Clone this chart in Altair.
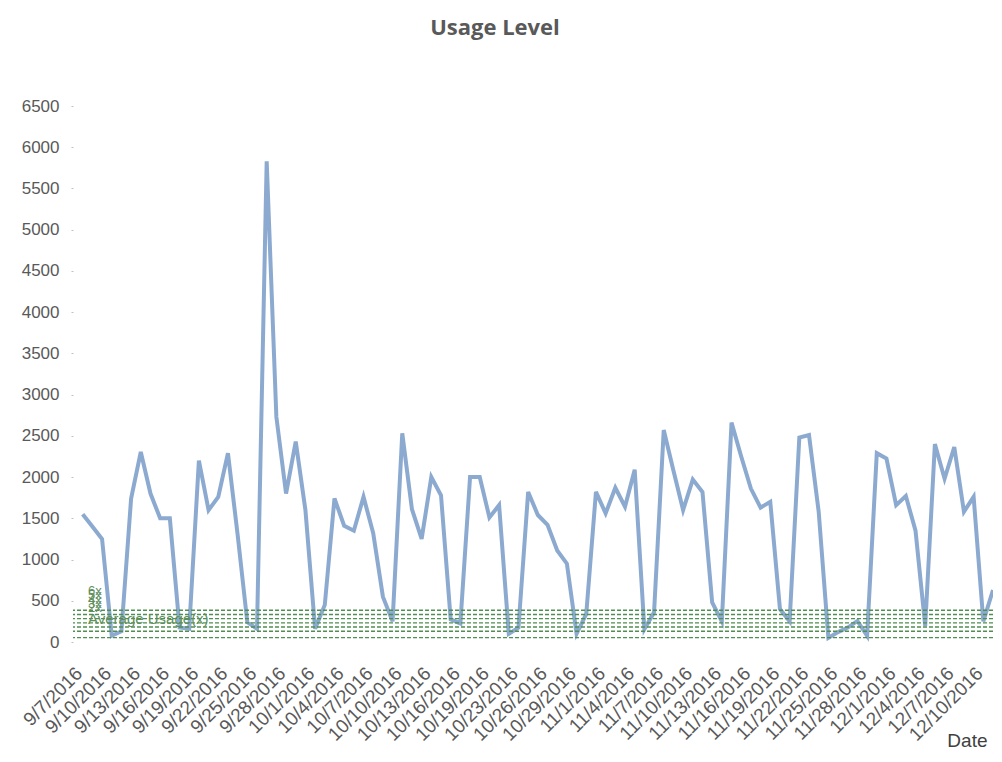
import altair as alt
import pandas as pd

# Category dates (one day, 10/21/2016, is absent from the source data)
dates = [d.strftime("%-m/%-d/%Y") for d in pd.date_range("2016-09-07", "2016-12-11")
         if d.strftime("%Y-%m-%d") != "2016-10-21"]

usage = [1550, 1400, 1250, 75, 130, 1740, 2305, 1800, 1500, 1500,
         175, 160, 2200, 1600, 1760, 2290, 1300, 240, 160, 5830,
         2730, 1800, 2430, 1600, 160, 450, 1740, 1410, 1350, 1760,
         1320, 550, 250, 2530, 1610, 1250, 2000, 1780, 275, 225,
         2000, 2000, 1510, 1660, 100, 175, 1820, 1540, 1420, 1110,
         950, 100, 340, 1820, 1560, 1870, 1640, 2090, 155, 360,
         2570, 2080, 1600, 1970, 1820, 480, 250, 2660, 2250, 1860,
         1630, 1700, 400, 250, 2480, 2510, 1580, 50, 120, 175,
         255, 75, 2290, 2225, 1660, 1770, 1350, 195, 2400, 1980,
         2365, 1580, 1760, 250, 630]

tick_labels = ["9/7/2016", "9/10/2016", "9/13/2016", "9/16/2016", "9/19/2016",
               "9/22/2016", "9/25/2016", "9/28/2016", "10/1/2016", "10/4/2016",
               "10/7/2016", "10/10/2016", "10/13/2016", "10/16/2016", "10/19/2016",
               "10/23/2016", "10/26/2016", "10/29/2016", "11/1/2016", "11/4/2016",
               "11/7/2016", "11/10/2016", "11/13/2016", "11/16/2016", "11/19/2016",
               "11/22/2016", "11/25/2016", "11/28/2016", "12/1/2016", "12/4/2016",
               "12/7/2016", "12/10/2016"]

level_values = [385, 334, 284, 232, 182, 130, 53]
level_labels = ["6x", "5x", "4x", "3x", "2x", "", "Average Usage(x)"]
level_label_sizes = [13, 13, 13, 13, 13, 13, 15]

title_text = ["Usage Level"]

df = pd.DataFrame({"idx": list(range(len(usage))), "date": dates, "usage": usage})
levels = pd.DataFrame({"value": level_values, "label": level_labels, "fs": level_label_sizes})
titles = pd.DataFrame({"t": title_text})

tick_idx = [3 * k for k in range(len(tick_labels))]
arr = "[" + ",".join('"%s"' % t for t in tick_labels) + "]"

FONT = "Liberation Sans"

x_enc = alt.X("idx:Q",
              scale=alt.Scale(domain=[-1, 94], nice=False, zero=False),
              axis=alt.Axis(values=tick_idx,
                            labelExpr=arr + "[round(datum.value / 3)]",
                            labelAngle=-45, labelAlign="right", labelBaseline="middle",
                            labelFontSize=19, labelColor="#595959", labelFont=FONT,
                            labelPadding=28, labelOffset=-4,
                            ticks=False, domain=False, grid=False,
                            labelOverlap=False,
                            title="Date", titleFont=FONT, titleFontSize=19,
                            titleFontWeight="normal", titleColor="#404040",
                            titleAlign="right", titleAnchor="end", titleBaseline="alphabetic",
                            titleX=914, titleY=104))

y_enc = alt.Y("usage:Q",
              scale=alt.Scale(domain=[0, 6500], nice=False),
              axis=alt.Axis(values=list(range(0, 6501, 500)), title=None, format="d",
                            labelFontSize=17, labelColor="#595959", labelFont=FONT,
                            labelPadding=12, tickSize=2, tickColor="#c0c0c0",
                            domain=False, grid=False))

line = alt.Chart(df).mark_line(color="#8CAAD0", strokeWidth=4, strokeJoin="miter").encode(
    x=x_enc, y=y_enc)

rules = alt.Chart(levels).mark_rule(color="#4F8F4F", strokeWidth=1.4, strokeDash=[4, 2]).encode(
    y=alt.Y("value:Q"))

texts = alt.Chart(levels).mark_text(align="left", baseline="middle", dy=-19,
                                    color="#5E8F5E", font=FONT).encode(
    x=alt.value(15), y=alt.Y("value:Q"), text="label:N",
    size=alt.Size("fs:Q", scale=None, legend=None))

title = alt.Chart(titles).mark_text(align="center", baseline="middle", font="Open Sans",
                                    fontSize=22, fontWeight="bold", color="#595959").encode(
    x=alt.value(422), y=alt.value(-78), text="t:N")

chart = alt.layer(line, rules, texts, title).properties(
    width=920, height=536,
    autosize=alt.AutoSizeParams(type="none"),
    padding={"left": 65, "top": 98, "right": 0, "bottom": 108},
).configure(background="white").configure_view(stroke=None)

chart.save("out.html", embed_options={"renderer": "svg", "actions": False})
